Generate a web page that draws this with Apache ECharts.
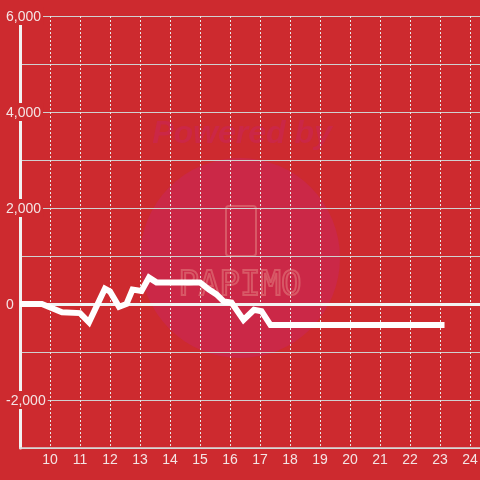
<!DOCTYPE html>
<html>
<head>
<meta charset="utf-8">
<script src="https://cdn.jsdelivr.net/npm/echarts@6/dist/echarts.min.js"></script>
<style>
  html, body { margin: 0; padding: 0; background: #cd2a2f; }
  #chart { width: 480px; height: 480px; }
</style>
</head>
<body>
<div id="chart"></div>
<script>
// hour of day -> running value
const hours = [9.0, 9.73, 10.4, 11.0, 11.3, 11.83, 12.0, 12.3, 12.55, 12.75, 13.05, 13.3, 13.55, 15.0, 15.3, 15.55, 15.8, 16.05, 16.45, 16.8, 17.05, 17.35, 23.15]
const values = [0, 0, -170, -190, -380, 320, 260, -60, 0, 300, 270, 550, 450, 450, 300, 200, 50, 30, -330, -120, -150, -440, -440]
const yLabelValues = [-2000, 0, 2000, 4000, 6000]

const bg = '#cd2a2f'
const chart = echarts.init(document.getElementById('chart'))

const option = {
  backgroundColor: bg,
  animation: false,
  grid: { left: 20, right: 0, top: 16, bottom: 32, containLabel: false, outerBoundsMode: 'none' },
  graphic: [
    {
      type: 'circle',
      z: -10,
      shape: { cx: 240, cy: 258, r: 100 },
      style: { fill: '#cb2847' }
    },
    {
      type: 'text',
      z: -10,
      style: {
        x: 242, y: 134,
        text: 'Powered by',
        align: 'center',
        verticalAlign: 'middle',
        font: 'italic bold 32px "Liberation Sans", Arial, sans-serif',
        fill: '#cb2746'
      }
    },
    {
      type: 'rect',
      z: -9,
      shape: { x: 226, y: 206, width: 30, height: 50, r: 3 },
      style: { fill: 'none', stroke: '#d85866', lineWidth: 2 }
    },
    {
      type: 'text',
      z: -9,
      style: {
        x: 240, y: 286,
        text: 'PAPIMO',
        align: 'center',
        verticalAlign: 'middle',
        font: '34px "DejaVu Sans Mono", monospace',
        fill: 'none',
        stroke: '#d85866',
        lineWidth: 2
      }
    }
  ],
  xAxis: {
    type: 'value',
    min: 9,
    max: 24.3333,
    interval: 1,
    axisLine: { show: true, onZero: false, lineStyle: { color: '#d9d9d9', width: 1.5 } },
    axisTick: { show: false },
    axisLabel: {
      color: '#f4e4e4',
      fontSize: 14,
      fontFamily: '"Liberation Sans", Arial, sans-serif',
      margin: 5,
      formatter: v => (Number.isInteger(v) && v > 9) ? String(v) : ''
    },
    splitLine: { show: true, lineStyle: { color: '#e8e8e8', type: [2, 2], width: 1 } }
  },
  yAxis: {
    type: 'value',
    min: -3000,
    max: 6000,
    interval: 1000,
    axisLine: { show: true, onZero: false, lineStyle: { color: '#f2f2f2', width: 3 } },
    axisTick: { show: false },
    axisLabel: {
      align: 'left',
      margin: 16,
      formatter: v => yLabelValues.includes(v) ? '{a|' + v.toLocaleString('en-US') + '}' : '',
      rich: {
        a: {
          color: '#f4e4e4',
          fontSize: 14,
          fontFamily: '"Liberation Sans", Arial, sans-serif',
          backgroundColor: bg,
          padding: [3, 2, 1, 2]
        }
      }
    },
    splitLine: { show: true, lineStyle: { color: '#d0d0d0', width: 1 } }
  },
  series: [
    {
      type: 'line',
      data: [],
      z: 1,
      silent: true,
      markLine: {
        silent: true,
        symbol: 'none',
        label: { show: false },
        lineStyle: { color: '#f2f2f2', width: 3, type: 'solid' },
        data: [{ yAxis: 0 }]
      }
    },
    {
      type: 'line',
      z: 5,
      data: hours.map((h, i) => [h, values[i]]),
      showSymbol: false,
      lineStyle: { color: '#ffffff', width: 6, cap: 'butt', join: 'miter' }
    }
  ]
}

chart.setOption(option)
</script>
</body>
</html>
